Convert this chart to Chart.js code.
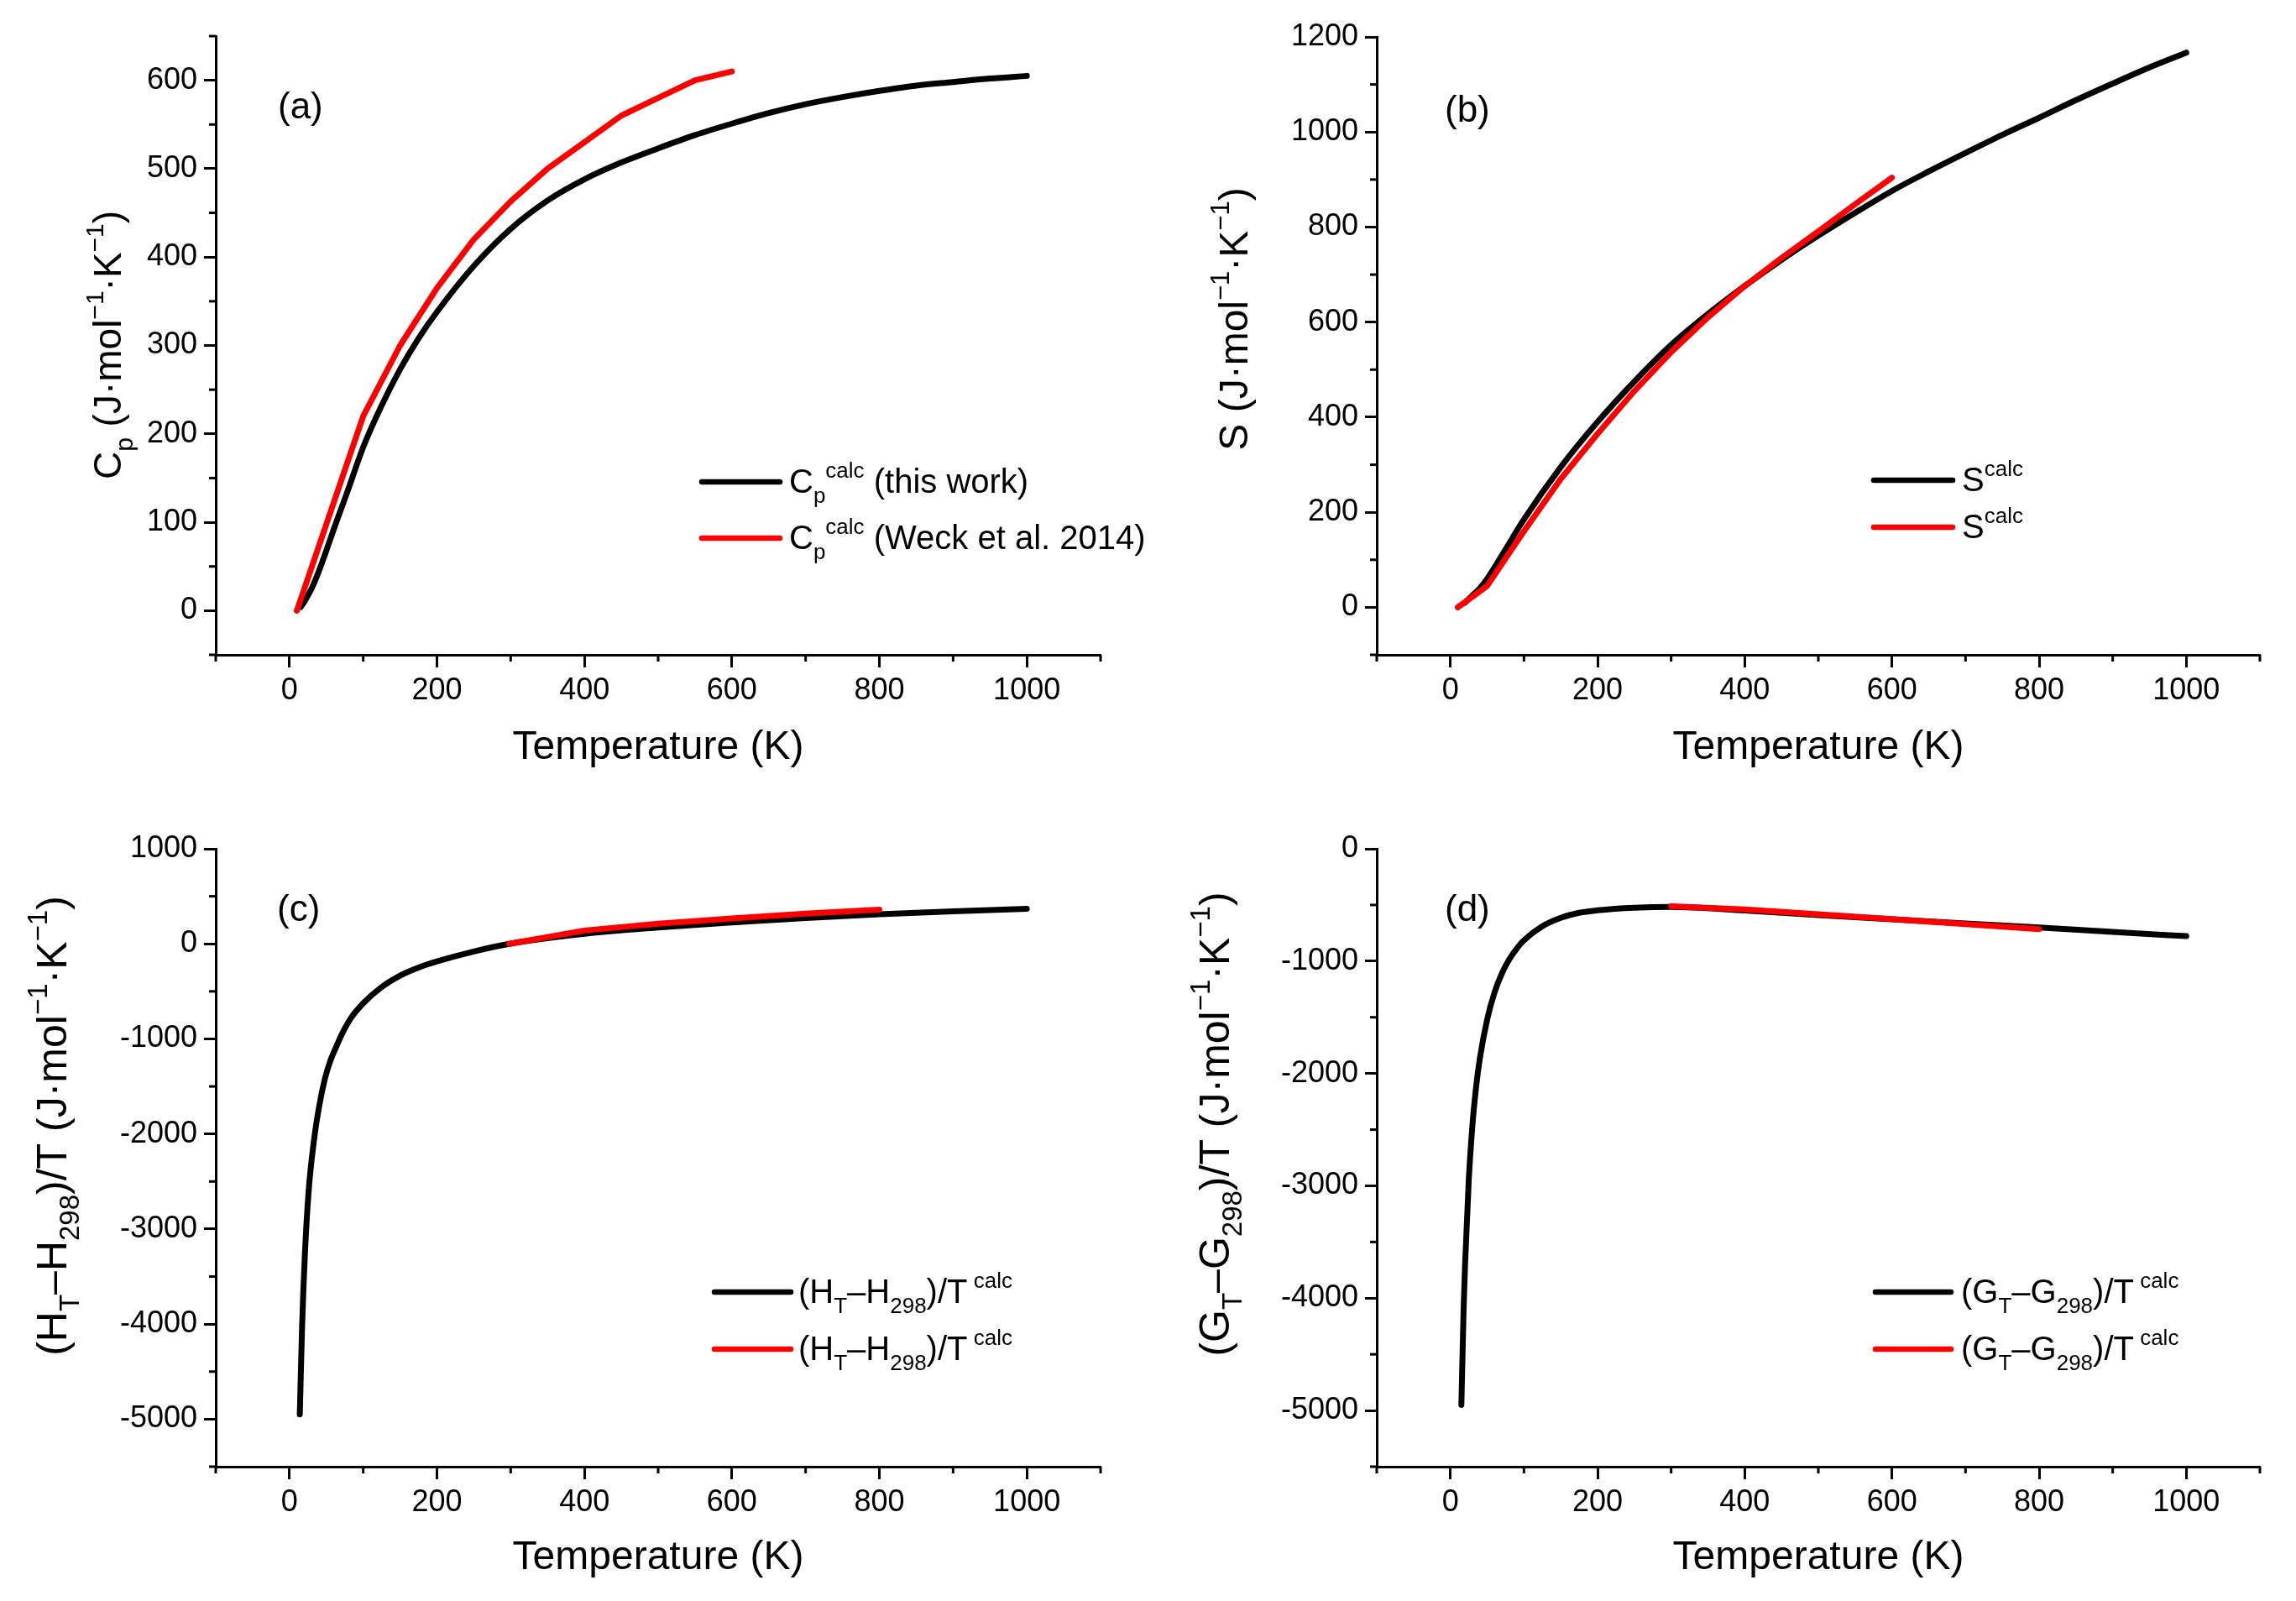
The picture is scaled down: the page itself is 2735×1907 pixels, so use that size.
<!DOCTYPE html>
<html>
<head>
<meta charset="utf-8">
<script src="https://cdn.jsdelivr.net/npm/chart.js@4.4.0/dist/chart.umd.min.js"></script>
<style>
  html, body { margin: 0; padding: 0; background: #fff; }
  #wrap { position: relative; width: 2735px; height: 1907px; }
  #wrap canvas { position: absolute; }
</style>
</head>
<body>
<div id="wrap">
  <canvas id="cpChart" width="1368" height="954" style="left:0;top:0"></canvas>
  <canvas id="sChart" width="1367" height="954" style="left:1368px;top:0"></canvas>
  <canvas id="hChart" width="1368" height="953" style="left:0;top:954px"></canvas>
  <canvas id="gChart" width="1367" height="953" style="left:1368px;top:954px"></canvas>
</div>
<script>
// ---- data ----
// (a) heat capacity
const tempCpThis = [15, 20, 30, 40, 50, 60, 70, 80, 100, 125, 150, 175, 200, 250, 300, 350, 400, 450, 500, 550, 600, 650, 700, 750, 800, 850, 900, 950, 1000];
const cpThis     = [4, 10, 25, 45, 68, 92, 115, 138, 185, 232, 273, 308, 338, 390, 432, 464, 488, 507, 523, 538, 551, 563, 573, 581, 588, 594, 598, 602, 605];
const tempCpWeck = [10, 100, 150, 200, 250, 300, 350, 400, 450, 500, 550, 600];
const cpWeck     = [0, 220, 300, 365, 420, 463, 500, 530, 560, 580, 600, 610];

// (b) entropy
const tempSThis = [20, 30, 40, 50, 75, 100, 150, 200, 250, 300, 350, 400, 450, 500, 550, 600, 650, 700, 750, 800, 850, 900, 950, 1000];
const sThis     = [10, 25, 40, 60, 122, 185, 295, 390, 475, 552, 617, 676, 731, 782, 830, 876, 917, 956, 994, 1030, 1067, 1102, 1136, 1167];
const tempSWeck = [10, 30, 50, 100, 150, 200, 250, 300, 350, 400, 450, 500, 550, 600];
const sWeck     = [0, 22, 45, 160, 270, 365, 455, 537, 610, 676, 735, 791, 848, 904];

// (c) (H_T - H_298)/T
const tempHThis = [14, 17, 21, 26, 33, 40, 48, 55, 63, 72, 83, 100, 125, 150, 175, 200, 250, 298, 400, 500, 600, 700, 800, 900, 1000];
const hThis     = [-4950, -4050, -3250, -2600, -2080, -1720, -1420, -1240, -1090, -935, -785, -625, -455, -335, -250, -185, -80, 0, 106, 172, 225, 272, 312, 343, 369];
const tempHWeck = [298, 400, 500, 600, 700, 800];
const hWeck     = [0, 140, 212, 268, 318, 360];

// (d) (G_T - G_298)/T
const tempGThis = [15, 18, 20, 25, 30, 35, 40, 50, 60, 70, 80, 90, 100, 125, 150, 175, 200, 250, 300, 400, 500, 600, 700, 800, 900, 1000];
const gThis     = [-4950, -4100, -3700, -2950, -2460, -2120, -1870, -1520, -1280, -1110, -985, -890, -815, -690, -615, -570, -548, -525, -518, -550, -590, -628, -665, -700, -740, -778];
const tempGWeck = [300, 400, 500, 600, 700, 800];
const gWeck     = [-512, -540, -582, -625, -670, -716];

const FONT = '"Liberation Sans", Arial, Helvetica, sans-serif';
const BLACK = '#000000';
const RED = '#ff0000';

const pts = (xs, ys) => xs.map((x, i) => ({ x, y: ys[i] }));

// draws text pieces with sub/superscripts; segs = [[text, ''|'sub'|'sup'], ...]
function drawRich(ctx, x, y, segs, F, align) {
  const f = Math.round(F * 0.65);
  let w = 0;
  const parts = segs.map(([t, k]) => {
    const size = k ? f : F;
    ctx.font = size + 'px ' + FONT;
    const mw = ctx.measureText(t).width;
    w += mw;
    return { t, k, size, mw };
  });
  let cx = align === 'center' ? x - w / 2 : x;
  ctx.textAlign = 'left';
  ctx.textBaseline = 'alphabetic';
  parts.forEach(p => {
    ctx.font = p.size + 'px ' + FONT;
    const dy = p.k === 'sub' ? F * 0.3 : p.k === 'sup' ? -F * 0.46 : 0;
    ctx.fillText(p.t, cx, y + dy);
    cx += p.mw;
  });
}

function decor(d) {
  return {
    id: 'decor',
    afterDraw(chart) {
      const ctx = chart.ctx, a = chart.chartArea;
      const xs = chart.scales.x, ys = chart.scales.y;
      ctx.save();
      // minor ticks
      ctx.strokeStyle = BLACK;
      ctx.lineWidth = 3;
      ctx.lineCap = 'butt';
      xs.ticks.forEach(t => {
        if (d.xMajor(t.value)) return;
        const px = xs.getPixelForValue(t.value);
        ctx.beginPath(); ctx.moveTo(px, a.bottom); ctx.lineTo(px, a.bottom + 8); ctx.stroke();
      });
      ys.ticks.forEach(t => {
        if (d.yMajor(t.value)) return;
        const py = ys.getPixelForValue(t.value);
        ctx.beginPath(); ctx.moveTo(a.left, py); ctx.lineTo(a.left - 8, py); ctx.stroke();
      });
      ctx.fillStyle = BLACK;
      // panel tag
      ctx.font = '44px ' + FONT;
      ctx.textAlign = 'left';
      ctx.textBaseline = 'alphabetic';
      ctx.fillText(d.tag, a.left + d.tagDx, a.top + d.tagDy);
      // legend
      ctx.lineCap = 'round';
      d.legend.forEach(e => {
        ctx.strokeStyle = e.color;
        ctx.lineWidth = 6.5;
        ctx.beginPath();
        ctx.moveTo(a.left + d.legX0, a.top + e.dy);
        ctx.lineTo(a.left + d.legX1, a.top + e.dy);
        ctx.stroke();
        drawRich(ctx, a.left + d.legTx, a.top + e.dy + 13, e.text, 40, 'left');
      });
      // x title
      drawRich(ctx, (a.left + a.right) / 2, a.bottom + d.xTitleDy, [['Temperature (K)', '']], 48, 'center');
      // y title
      ctx.translate(a.left - d.yTitleDx, a.top + d.yTitleCy);
      ctx.rotate(-Math.PI / 2);
      drawRich(ctx, 0, 0, d.yTitle, d.yTitleSize, 'center');
      ctx.restore();
    }
  };
}

function makeChart(id, c) {
  const xMajor = v => v >= 0 && v <= 1000 && Math.round(v) % 200 === 0;
  const yMajor = v => v >= c.yLabelMin && v <= c.yLabelMax && Math.round(v) % c.yMajorStep === 0;
  return new Chart(document.getElementById(id), {
    type: 'line',
    data: {
      datasets: [
        { data: pts(c.redX, c.redY), borderColor: RED, order: 0, tension: 0 },
        { data: pts(c.blackX, c.blackY), borderColor: BLACK, order: 1, tension: 0.4, cubicInterpolationMode: 'monotone' }
      ].map(s => Object.assign({
        borderWidth: 7, pointRadius: 0, fill: false,
        borderCapStyle: 'round', borderJoinStyle: 'round'
      }, s))
    },
    options: {
      responsive: false,
      animation: false,
      devicePixelRatio: 1,
      layout: { padding: { top: c.padTop, right: c.padRight, left: 0, bottom: 0 } },
      plugins: { legend: { display: false }, tooltip: { enabled: false } },
      scales: {
        x: {
          type: 'linear', min: -100, max: 1100,
          border: { display: true, color: BLACK, width: 3 },
          grid: {
            drawOnChartArea: false, drawTicks: true, tickLength: 15, tickWidth: 3,
            tickColor: ctx => xMajor(ctx.tick.value) ? BLACK : 'rgba(0,0,0,0)'
          },
          ticks: {
            stepSize: 100, autoSkip: false, maxRotation: 0, color: BLACK, padding: 6,
            font: { family: FONT, size: 36 },
            callback: v => xMajor(v) ? String(Math.round(v)) : ''
          },
          afterFit: s => { s.height = c.xAxisH; }
        },
        y: {
          type: 'linear', min: c.yMin, max: c.yMax,
          border: { display: true, color: BLACK, width: 3 },
          grid: {
            drawOnChartArea: false, drawTicks: true, tickLength: 14, tickWidth: 3,
            tickColor: ctx => yMajor(ctx.tick.value) ? BLACK : 'rgba(0,0,0,0)'
          },
          ticks: {
            stepSize: c.yStep, autoSkip: false, color: BLACK, padding: 8,
            font: { family: FONT, size: 36 },
            callback: v => yMajor(v) ? String(Math.round(v)) : ''
          },
          afterFit: s => { s.width = c.yAxisW; }
        }
      }
    },
    plugins: [decor(Object.assign({ xMajor, yMajor }, c.decor))]
  });
}

const cpTitle = [['C', ''], ['p', 'sub'], [' (J·mol', ''], ['−1', 'sup'], ['·K', ''], ['−1', 'sup'], [')', '']];
const sTitle = [['S (J·mol', ''], ['−1', 'sup'], ['·K', ''], ['−1', 'sup'], [')', '']];
const hTitle = [['(H', ''], ['T', 'sub'], ['–H', ''], ['298', 'sub'], [')/T (J·mol', ''], ['−1', 'sup'], ['·K', ''], ['−1', 'sup'], [')', '']];
const gTitle = [['(G', ''], ['T', 'sub'], ['–G', ''], ['298', 'sub'], [')/T (J·mol', ''], ['−1', 'sup'], ['·K', ''], ['−1', 'sup'], [')', '']];
const hLeg = [['(H', ''], ['T', 'sub'], ['–H', ''], ['298', 'sub'], [')/T', ''], [' calc', 'sup']];
const gLeg = [['(G', ''], ['T', 'sub'], ['–G', ''], ['298', 'sub'], [')/T', ''], [' calc', 'sup']];

makeChart('cpChart', {
  blackX: tempCpThis, blackY: cpThis, redX: tempCpWeck, redY: cpWeck,
  yMin: -50, yMax: 650, yStep: 50, yMajorStep: 100, yLabelMin: 0, yLabelMax: 600,
  padTop: 43, padRight: 57, yAxisW: 257, xAxisH: 174,
  decor: {
    tag: '(a)', tagDx: 74, tagDy: 98,
    legX0: 579, legX1: 672, legTx: 683,
    legend: [
      { color: BLACK, dy: 531, text: [['C', ''], ['p', 'sub'], ['calc', 'sup'], [' (this work)', '']] },
      { color: RED, dy: 598, text: [['C', ''], ['p', 'sub'], ['calc', 'sup'], [' (Weck et al. 2014)', '']] }
    ],
    xTitleDy: 124, yTitle: cpTitle, yTitleSize: 46, yTitleDx: 113, yTitleCy: 368
  }
});

makeChart('sChart', {
  blackX: tempSThis, blackY: sThis, redX: tempSWeck, redY: sWeck,
  yMin: -100, yMax: 1200, yStep: 100, yMajorStep: 200, yLabelMin: 0, yLabelMax: 1200,
  padTop: 44, padRight: 43, yAxisW: 272, xAxisH: 174,
  decor: {
    tag: '(b)', tagDx: 81, tagDy: 101,
    legX0: 592, legX1: 686, legTx: 697,
    legend: [
      { color: BLACK, dy: 528, text: [['S', ''], ['calc', 'sup']] },
      { color: RED, dy: 584, text: [['S', ''], ['calc', 'sup']] }
    ],
    xTitleDy: 124, yTitle: sTitle, yTitleSize: 48, yTitleDx: 154, yTitleCy: 336
  }
});

makeChart('hChart', {
  blackX: tempHThis, blackY: hThis, redX: tempHWeck, redY: hWeck,
  yMin: -5500, yMax: 1000, yStep: 500, yMajorStep: 1000, yLabelMin: -5000, yLabelMax: 1000,
  padTop: 57, padRight: 57, yAxisW: 257, xAxisH: 160,
  decor: {
    tag: '(c)', tagDx: 73, tagDy: 86,
    legX0: 594, legX1: 685, legTx: 694,
    legend: [
      { color: BLACK, dy: 528, text: hLeg },
      { color: RED, dy: 596, text: hLeg }
    ],
    xTitleDy: 122, yTitle: hTitle, yTitleSize: 50, yTitleDx: 178, yTitleCy: 330
  }
});

makeChart('gChart', {
  blackX: tempGThis, blackY: gThis, redX: tempGWeck, redY: gWeck,
  yMin: -5500, yMax: 0, yStep: 500, yMajorStep: 1000, yLabelMin: -5000, yLabelMax: 0,
  padTop: 57, padRight: 43, yAxisW: 272, xAxisH: 160,
  decor: {
    tag: '(d)', tagDx: 81, tagDy: 86,
    legX0: 594, legX1: 684, legTx: 696,
    legend: [
      { color: BLACK, dy: 528, text: gLeg },
      { color: RED, dy: 596, text: gLeg }
    ],
    xTitleDy: 122, yTitle: gTitle, yTitleSize: 50, yTitleDx: 176, yTitleCy: 328
  }
});
</script>
</body>
</html>
